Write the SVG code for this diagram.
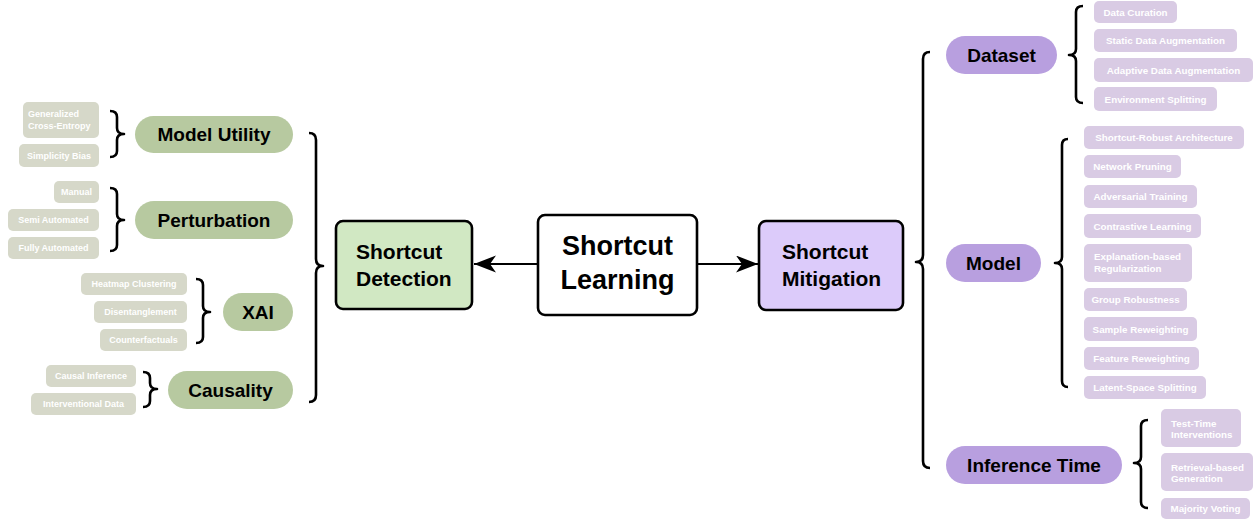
<svg xmlns="http://www.w3.org/2000/svg" width="1258" height="520" viewBox="0 0 1258 520">
<style>
text{font-family:"Liberation Sans",Arial,sans-serif;font-weight:bold}
.box{stroke:#000;stroke-width:2.6}
.main{font-size:21px;fill:#000}
.big{font-size:27px;fill:#000;text-anchor:middle}
.catL{fill:#b7c9a0}
.catR{fill:#b89fdf}
.cat{font-size:19px;fill:#000;text-anchor:middle}
.leafL{fill:#d6d8c9}
.leafR{fill:#d9cbe4}
.lt{font-size:9px;fill:#fff;text-anchor:middle}
.ltl{font-size:9px;fill:#fff}
.rt{font-size:9.8px;fill:#fff;text-anchor:middle}
.rtl{font-size:9.8px;fill:#fff}
.br{fill:none;stroke:#000;stroke-width:2.6;stroke-linejoin:round}
.conn{stroke:#000;stroke-width:2;fill:none}
</style>
<defs>
<marker id="arr" markerUnits="userSpaceOnUse" markerWidth="24" markerHeight="18" refX="22" refY="8.5" orient="auto">
<path d="M0,0 L22,8.5 L0,17 L6,8.5 Z" fill="#000"/>
</marker>
</defs>

<g id="connectors">
<line class="conn" x1="538" y1="264" x2="474" y2="264" marker-end="url(#arr)"/>
<line class="conn" x1="697" y1="264" x2="758" y2="264" marker-end="url(#arr)"/>
<path class="br" d="M309,133 Q316,133 316,140 L316,259 Q316,266 323,266 Q316,266 316,273 L316,395 Q316,402 309,402"/>
<path class="br" d="M930,52 Q923,52 923,59 L923,255 Q923,262 916,262 Q923,262 923,269 L923,461 Q923,468 930,468"/>
<path class="br" d="M110,111 Q117,111 117,117 L117,128 Q117,134 124,134 Q117,134 117,140 L117,151 Q117,157 110,157"/>
<path class="br" d="M110,188 Q117,188 117,194 L117,214 Q117,220 124,220 Q117,220 117,226 L117,245 Q117,251 110,251"/>
<path class="br" d="M196,279 Q203,279 203,285 L203,306 Q203,312 210,312 Q203,312 203,318 L203,337 Q203,343 196,343"/>
<path class="br" d="M143,372 Q150,372 150,378 L150,383 Q150,389 157,389 Q150,389 150,395 L150,401 Q150,407 143,407"/>
<path class="br" d="M1083,6 Q1076,6 1076,12 L1076,49 Q1076,55 1069,55 Q1076,55 1076,61 L1076,97 Q1076,103 1083,103"/>
<path class="br" d="M1068,139 Q1062,139 1062,145 L1062,257 Q1062,263 1055,263 Q1062,263 1062,269 L1062,381 Q1062,387 1068,387"/>
<path class="br" d="M1148,420 Q1141,420 1141,426 L1141,457 Q1141,463 1134,463 Q1141,463 1141,469 L1141,502 Q1141,508 1148,508"/>
</g>

<g id="shortcut-learning">
<rect class="box" x="538" y="215" width="159" height="100" rx="7" fill="#fff"/>
<text class="big" x="617.5" y="255">Shortcut</text>
<text class="big" x="617.5" y="289">Learning</text>
</g>
<g id="shortcut-detection">
<rect class="box" x="336" y="221" width="136" height="88" rx="7" fill="#d1e8c3"/>
<text class="main" x="356" y="259">Shortcut</text>
<text class="main" x="356" y="286">Detection</text>
</g>
<g id="shortcut-mitigation">
<rect class="box" x="759" y="221" width="144" height="89" rx="7" fill="#dccbfa"/>
<text class="main" x="782" y="259">Shortcut</text>
<text class="main" x="782" y="286">Mitigation</text>
</g>

<g id="model-utility">
<rect class="catL" x="135" y="116" width="158" height="37" rx="18.5"/>
<text class="cat" x="214" y="141">Model Utility</text>
</g>
<g id="perturbation">
<rect class="catL" x="135" y="201" width="158" height="38" rx="19"/>
<text class="cat" x="214" y="227">Perturbation</text>
</g>
<g id="xai">
<rect class="catL" x="223" y="293" width="70" height="38" rx="19"/>
<text class="cat" x="258" y="319">XAI</text>
</g>
<g id="causality">
<rect class="catL" x="168" y="371" width="125" height="38" rx="19"/>
<text class="cat" x="230.5" y="397">Causality</text>
</g>

<g id="generalized-ce">
<rect class="leafL" x="23" y="102" width="76" height="36" rx="5"/>
<text class="ltl" x="28" y="117">Generalized</text>
<text class="ltl" x="28" y="129">Cross-Entropy</text>
</g>
<g id="simplicity-bias">
<rect class="leafL" x="19" y="144" width="80" height="23" rx="5"/>
<text class="lt" x="59" y="158.5">Simplicity Bias</text>
</g>
<g id="manual">
<rect class="leafL" x="54" y="181" width="45" height="22" rx="5"/>
<text class="lt" x="76.5" y="195">Manual</text>
</g>
<g id="semi-automated">
<rect class="leafL" x="8" y="209" width="91" height="22" rx="5"/>
<text class="lt" x="53.5" y="223">Semi Automated</text>
</g>
<g id="fully-automated">
<rect class="leafL" x="8" y="237" width="91" height="22" rx="5"/>
<text class="lt" x="53.5" y="251">Fully Automated</text>
</g>
<g id="heatmap-clustering">
<rect class="leafL" x="81" y="273" width="106" height="22" rx="5"/>
<text class="lt" x="134" y="287">Heatmap Clustering</text>
</g>
<g id="disentanglement">
<rect class="leafL" x="94" y="301" width="93" height="22" rx="5"/>
<text class="lt" x="140.5" y="315">Disentanglement</text>
</g>
<g id="counterfactuals">
<rect class="leafL" x="100" y="329" width="87" height="22" rx="5"/>
<text class="lt" x="143.5" y="343">Counterfactuals</text>
</g>
<g id="causal-inference">
<rect class="leafL" x="46" y="365" width="90" height="22" rx="5"/>
<text class="lt" x="91" y="379">Causal Inference</text>
</g>
<g id="interventional-data">
<rect class="leafL" x="31" y="393" width="105" height="22" rx="5"/>
<text class="lt" x="83.5" y="407">Interventional Data</text>
</g>

<g id="dataset">
<rect class="catR" x="946" y="36" width="111" height="38" rx="19"/>
<text class="cat" x="1001.5" y="62">Dataset</text>
</g>
<g id="model">
<rect class="catR" x="946" y="244" width="95" height="38" rx="19"/>
<text class="cat" x="993.5" y="270">Model</text>
</g>
<g id="inference-time">
<rect class="catR" x="946" y="446" width="176" height="38" rx="19"/>
<text class="cat" x="1034" y="472">Inference Time</text>
</g>

<g id="data-curation">
<rect class="leafR" x="1094" y="1" width="83" height="22" rx="5"/>
<text class="rt" x="1135.5" y="15.5">Data Curation</text>
</g>
<g id="static-data-aug">
<rect class="leafR" x="1094" y="29" width="143" height="23" rx="5"/>
<text class="rt" x="1165.5" y="44">Static Data Augmentation</text>
</g>
<g id="adaptive-data-aug">
<rect class="leafR" x="1094" y="58" width="159" height="24" rx="5"/>
<text class="rt" x="1173.5" y="73.5">Adaptive Data Augmentation</text>
</g>
<g id="environment-splitting">
<rect class="leafR" x="1094" y="87" width="123" height="24" rx="5"/>
<text class="rt" x="1155.5" y="102.5">Environment Splitting</text>
</g>

<g id="shortcut-robust">
<rect class="leafR" x="1084" y="126" width="160" height="23" rx="5"/>
<text class="rt" x="1164" y="141">Shortcut-Robust Architecture</text>
</g>
<g id="network-pruning">
<rect class="leafR" x="1084" y="155" width="97" height="23" rx="5"/>
<text class="rt" x="1132.5" y="170">Network Pruning</text>
</g>
<g id="adversarial-training">
<rect class="leafR" x="1084" y="185" width="113" height="23" rx="5"/>
<text class="rt" x="1140.5" y="200">Adversarial Training</text>
</g>
<g id="contrastive-learning">
<rect class="leafR" x="1084" y="214" width="117" height="24" rx="5"/>
<text class="rt" x="1142.5" y="229.5">Contrastive Learning</text>
</g>
<g id="explanation-reg">
<rect class="leafR" x="1084" y="244" width="108" height="38" rx="5"/>
<text class="rtl" x="1094" y="259.5">Explanation-based</text>
<text class="rtl" x="1094" y="271.5">Regularization</text>
</g>
<g id="group-robustness">
<rect class="leafR" x="1084" y="288" width="103" height="23" rx="5"/>
<text class="rt" x="1135.5" y="303">Group Robustness</text>
</g>
<g id="sample-reweighting">
<rect class="leafR" x="1084" y="317" width="113" height="24" rx="5"/>
<text class="rt" x="1140.5" y="332.5">Sample Reweighting</text>
</g>
<g id="feature-reweighting">
<rect class="leafR" x="1084" y="347" width="115" height="23" rx="5"/>
<text class="rt" x="1141.5" y="362">Feature Reweighting</text>
</g>
<g id="latent-space-splitting">
<rect class="leafR" x="1084" y="376" width="122" height="23" rx="5"/>
<text class="rt" x="1145" y="391">Latent-Space Splitting</text>
</g>

<g id="test-time-interventions">
<rect class="leafR" x="1161" y="409" width="80" height="38" rx="5"/>
<text class="rtl" x="1171" y="426.5">Test-Time</text>
<text class="rtl" x="1171" y="438">Interventions</text>
</g>
<g id="retrieval-based-generation">
<rect class="leafR" x="1161" y="453" width="92" height="38" rx="5"/>
<text class="rtl" x="1171" y="470.5">Retrieval-based</text>
<text class="rtl" x="1171" y="482">Generation</text>
</g>
<g id="majority-voting">
<rect class="leafR" x="1161" y="498" width="89" height="21" rx="5"/>
<text class="rt" x="1205.5" y="512">Majority Voting</text>
</g>
</svg>
